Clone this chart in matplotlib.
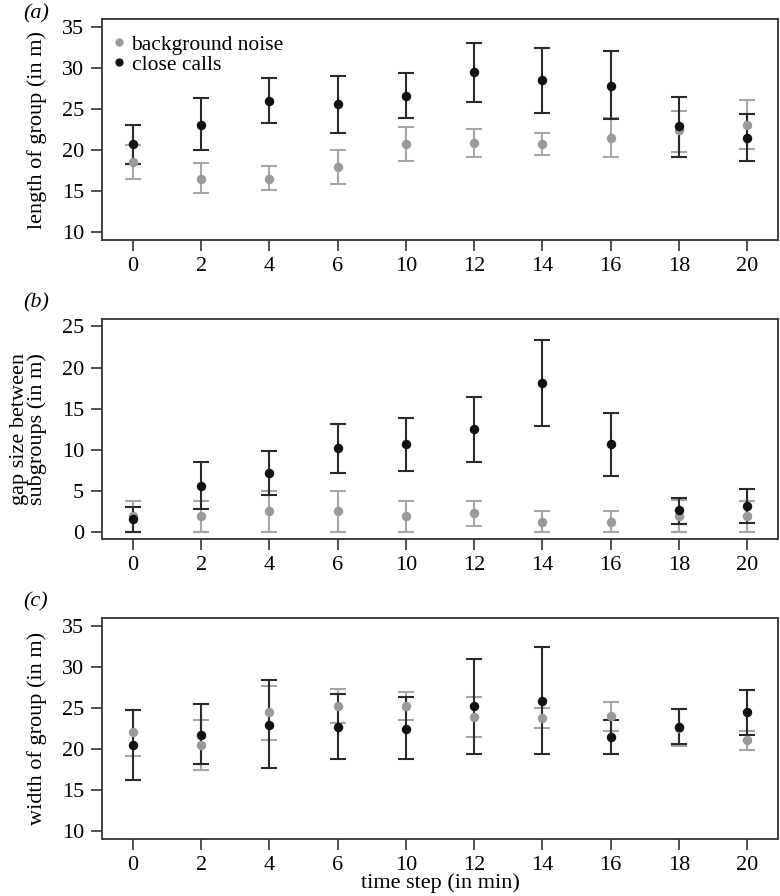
import numpy as np
import matplotlib
matplotlib.use("Agg")
import matplotlib.pyplot as plt

plt.rcParams['font.family'] = ['Liberation Serif', 'DejaVu Serif']
plt.rcParams['font.size'] = 16

steps = ["0", "2", "4", "6", "10", "12", "14", "16", "18", "20"]

# (a) length of group
len_bg = [18.5, 16.5, 16.5, 17.9, 20.7, 20.9, 20.7, 21.5, 22.4, 23.1]
len_bg_lo = [16.5, 14.7, 15.1, 15.8, 18.6, 19.1, 19.4, 19.1, 19.8, 20.1]
len_bg_hi = [20.6, 18.4, 18.0, 20.0, 22.8, 22.5, 22.1, 23.9, 24.8, 26.05]
len_cc = [20.7, 23.1, 26.0, 25.6, 26.6, 29.5, 28.5, 27.8, 22.9, 21.5]
len_cc_lo = [18.3, 20.0, 23.3, 22.1, 23.9, 25.9, 24.5, 23.75, 19.1, 18.6]
len_cc_hi = [23.1, 26.3, 28.75, 29.0, 29.35, 33.1, 32.4, 32.1, 26.45, 24.35]

# (b) gap size between subgroups
gap_bg = [2.0, 2.0, 2.6, 2.6, 2.0, 2.3, 1.25, 1.25, 2.0, 2.0]
gap_bg_lo = [0, 0, 0, 0, 0, 0.77, 0, 0, 0, 0]
gap_bg_hi = [3.8, 3.8, 5.0, 5.0, 3.8, 3.8, 2.6, 2.6, 3.9, 3.8]
gap_cc = [1.58, 5.63, 7.17, 10.2, 10.65, 12.5, 18.1, 10.7, 2.63, 3.2]
gap_cc_lo = [0, 2.75, 4.45, 7.17, 7.45, 8.5, 12.9, 6.84, 0.93, 1.09]
gap_cc_hi = [3.04, 8.5, 9.88, 13.08, 13.85, 16.4, 23.3, 14.45, 4.13, 5.18]

# (c) width of group
wid_bg = [22.03, 20.5, 24.47, 25.24, 25.24, 23.9, 23.74, 24.07, 22.6, 21.14]
wid_bg_lo = [19.19, 17.48, 21.14, 23.13, 23.58, 21.46, 22.52, 22.2, 20.37, 19.92]
wid_bg_hi = [24.7, 23.58, 27.68, 27.36, 26.9, 26.3, 24.96, 25.69, 24.88, 22.2]
wid_cc = [20.5, 21.75, 22.97, 22.64, 22.48, 25.24, 25.85, 21.46, 22.64, 24.47]
wid_cc_lo = [16.26, 18.13, 17.64, 18.74, 18.74, 19.35, 19.35, 19.35, 20.65, 21.75]
wid_cc_hi = [24.7, 25.45, 28.46, 26.75, 26.34, 31.0, 32.4, 23.58, 24.88, 27.24]

panels = [
    ("(a)", "length of group (in m)", (9, 36), [10, 15, 20, 25, 30, 35],
     (len_bg, len_bg_lo, len_bg_hi), (len_cc, len_cc_lo, len_cc_hi), 19, 240),
    ("(b)", "gap size between\nsubgroups (in m)", (-0.85, 25.9), [0, 5, 10, 15, 20, 25],
     (gap_bg, gap_bg_lo, gap_bg_hi), (gap_cc, gap_cc_lo, gap_cc_hi), 319, 539),
    ("(c)", "width of group (in m)", (9, 36), [10, 15, 20, 25, 30, 35],
     (wid_bg, wid_bg_lo, wid_bg_hi), (wid_cc, wid_cc_lo, wid_cc_hi), 618, 839),
]

W, H = 780, 896
fig = plt.figure(figsize=(W / 100, H / 100), dpi=100)

gray_bar, gray_pt = "#a6a6a6", "#999999"
black_bar, black_pt = "#2a2a2a", "#111111"
x = np.arange(1, len(steps) + 1)

for i, (tag, ylab, ylim, yt, bg, cc, top, bot) in enumerate(panels):
    ax = fig.add_axes([102 / W, (H - bot) / H, 676 / W, (bot - top) / H])
    for (m, lo, hi), cb in ((bg, gray_bar), (cc, black_bar)):
        m, lo, hi = np.array(m), np.array(lo), np.array(hi)
        ax.errorbar(x, m, yerr=[m - lo, hi - m], fmt="none", ecolor=cb,
                    elinewidth=1.5, capsize=5.5, capthick=1.5, zorder=2)
    ax.plot(x, bg[0], "o", color=gray_pt, ms=5.8, zorder=3, label="background noise")
    ax.plot(x, cc[0], "o", color=black_pt, ms=5.8, zorder=4, label="close calls")

    ax.set_xlim(0.545, 10.455)
    ax.set_ylim(*ylim)
    ax.set_yticks(yt)
    ax.set_xticks(x)
    ax.set_xticklabels(steps)
    ax.tick_params(direction="out", length=8, width=1.2, color="#333333", pad=5)
    ax.tick_params(axis="x", pad=4)
    for s in ax.spines.values():
        s.set_color("#333333")
        s.set_linewidth(1.3)
    ax.set_ylabel(ylab, linespacing=0.92)
    ax.yaxis.set_label_coords(-0.081, 0.5)
    fig.text(36 / W, 1 - 14 / H if i == 0 else 1 - (top - 16) / H, tag,
             style="italic", ha="center", va="center", fontsize=16)
    if i == 0:
        ax.legend(loc="upper left", bbox_to_anchor=(0.015, 0.93), frameon=False,
                  handlelength=0.6, handletextpad=0.3, borderpad=0, fontsize=15.5,
                  labelspacing=0.0, markerscale=0.85, borderaxespad=0)
    if i == 2:
        ax.set_xlabel("time step (in min)", labelpad=-1)

fig.savefig("out.png", dpi=100)
